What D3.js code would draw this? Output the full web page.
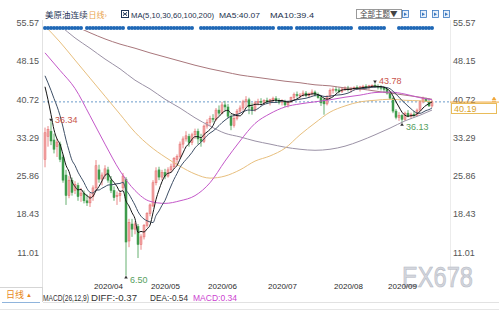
<!DOCTYPE html>
<html>
<head>
<meta charset="utf-8">
<script src="https://cdn.jsdelivr.net/npm/d3@7"></script>
<style>
  body { margin: 0; background: #fff; }
  svg { display: block; font-family: "Liberation Sans", Arial, sans-serif; }
</style>
</head>
<body>
<div id="chart"></div>
<script>
// daily candles, left to right
const opens = [29.0,33.5,34.5,32.8,31.5,32.0,29.5,26.0,22.0,25.0,23.0,24.0,22.0,22.5,21.0,20.6,21.8,23.5,27.0,25.2,
  26.0,27.0,25.0,23.0,21.8,22.0,23.5,25.2,13.2,16.5,15.5,16.0,12.5,14.0,16.2,18.5,20.0,24.5,27.0,25.6,
  26.5,25.8,27.0,27.6,29.0,29.6,32.0,33.0,33.5,32.3,33.8,34.5,33.0,32.5,35.5,36.2,37.0,36.8,38.6,38.0,
  39.6,39.2,37.4,35.6,37.0,38.4,39.0,40.2,40.6,39.2,38.6,40.0,40.3,40.1,40.5,40.2,40.6,40.8,40.5,40.1,
  40.3,39.6,40.2,41.0,41.6,41.4,41.5,41.9,41.4,41.8,42.1,41.6,41.0,40.6,39.8,41.2,42.4,42.6,42.5,42.2,
  42.7,42.9,42.6,42.8,43.0,42.8,43.1,43.2,43.0,43.3,43.4,43.2,43.0,42.9,42.6,41.9,40.9,38.4,37.2,37.6,
  36.8,38.0,37.4,37.8,37.6,38.6,40.2,40.8,40.3,39.4];
const highs = [35.2,35.5,36.34,34.0,33.0,32.5,30.0,27.0,25.8,25.5,24.8,24.5,23.5,23.0,22.2,22.5,24.0,28.9,28.0,26.5,
  27.9,27.6,25.8,23.8,22.8,23.0,26.4,25.6,17.5,17.5,17.0,16.5,14.5,16.5,18.8,20.5,25.0,27.5,27.6,27.0,
  27.2,27.5,28.2,29.5,30.0,32.5,33.5,34.5,34.0,34.2,35.0,35.0,34.0,35.8,36.8,37.5,37.8,39.0,39.5,40.2,
  40.4,39.8,37.8,37.6,38.8,39.5,40.6,41.3,41.0,40.0,40.4,40.8,40.9,40.7,41.0,40.8,41.2,41.3,40.9,40.7,
  40.6,40.4,41.2,42.0,42.2,41.9,42.4,42.3,42.0,42.6,42.4,42.0,41.3,40.8,41.5,42.8,43.0,43.1,43.0,42.9,
  43.2,43.3,43.1,43.2,43.4,43.3,43.5,43.6,43.5,43.6,43.78,43.6,43.4,43.2,42.8,42.1,41.2,38.8,38.2,37.8,
  38.3,38.6,38.1,38.4,38.9,40.5,41.2,41.0,40.9,40.6];
const lows = [27.5,31.5,31.8,30.2,29.5,28.5,24.5,20.2,21.5,22.0,22.3,21.0,20.8,20.5,20.0,19.8,21.0,23.0,24.5,24.0,
  25.2,24.5,22.5,21.0,20.2,20.8,23.0,6.50,12.0,14.0,14.5,9.9,11.5,13.5,15.8,18.0,19.8,24.0,25.0,25.0,
  25.2,25.5,26.5,27.2,27.8,29.2,31.2,32.5,31.5,31.8,33.0,32.0,31.5,32.2,35.0,35.5,36.2,36.5,37.5,37.8,
  38.5,37.0,34.7,35.2,36.6,38.0,38.5,39.2,37.8,37.7,38.3,39.5,39.6,39.6,39.8,39.5,40.1,40.2,39.7,39.5,
  39.2,39.1,40.0,40.6,41.0,40.8,41.2,41.1,40.9,41.4,41.2,40.8,39.4,37.7,39.5,41.0,41.8,42.0,41.8,41.9,
  42.3,42.2,42.0,42.4,42.5,42.2,42.7,42.8,42.6,42.9,42.9,42.6,42.4,42.0,41.6,40.6,38.0,36.8,36.5,36.13,
  36.5,37.2,37.0,37.3,37.4,38.4,39.9,40.3,39.2,39.1];
const closes = [34.2,34.8,32.6,31.0,32.4,29.0,25.0,22.0,25.0,22.6,24.2,21.8,22.5,21.0,20.6,21.8,23.5,27.8,25.2,26.0,
  27.2,25.0,23.0,21.6,22.0,22.4,25.8,13.0,16.8,15.5,16.5,12.5,14.0,16.2,18.5,20.2,24.5,26.8,25.6,26.5,
  25.8,27.0,27.6,29.2,29.6,32.0,33.0,33.6,32.3,33.8,34.5,33.0,32.5,35.5,36.2,37.0,36.8,38.6,38.0,39.6,
  39.2,37.4,35.6,37.0,38.4,39.0,40.2,40.6,39.2,38.6,40.0,40.3,40.1,40.5,40.2,40.6,40.8,40.5,40.1,40.3,
  39.6,40.2,41.0,41.6,41.4,41.5,41.9,41.4,41.8,42.1,41.6,41.0,40.0,39.8,41.2,42.4,42.6,42.5,42.2,42.7,
  42.9,42.6,42.8,43.0,42.8,43.1,43.2,43.0,43.3,43.4,43.2,43.0,42.9,42.6,41.9,40.9,38.4,37.2,37.6,36.8,
  38.0,37.4,37.8,37.6,38.6,40.2,40.8,40.3,39.4,40.19];
// closes just before the first visible candle (feed MA5 / MA10)
const priorCloses = [48.5,47.2,46.8,47.5,46.9,47.4,46.8,45.9,41.3];

// long moving averages, at these candle indices
const maIndex = [0,5,10,15,20,25,30,35,40,45,50,55,60,65,70,75,80,85,90,95,100,105,110,115,120,125,129];
const ma30 = [49.7,46.3,42.8,37.5,32.0,26.8,23.0,20.9,20.5,21.0,22.0,24.5,28.7,32.6,36.0,37.9,39.2,39.8,40.2,40.6,41.1,41.5,42.0,42.1,41.7,41.0,40.6];
const ma60 = [54.9,51.8,48.3,44.8,41.3,37.8,34.3,31.6,29.5,27.7,26.2,25.4,25.8,27.0,28.7,29.7,31.2,33.8,36.1,38.2,39.4,40.2,40.5,40.7,40.5,40.4,40.2];
const ma100 = [57.4,55.0,52.6,50.6,48.5,46.6,44.4,42.7,40.7,39.0,37.1,35.5,34.1,33.4,32.6,32.0,31.4,31.0,30.8,31.0,31.6,32.6,33.8,35.1,36.5,37.6,38.6];
const ma200 = [57.5,56.3,54.9,53.6,52.4,51.4,50.6,49.7,48.9,48.1,47.3,46.6,46.0,45.4,45.0,44.6,44.2,43.9,43.5,43.3,42.9,42.7,42.3,41.9,41.5,41.1,40.7];

const priceTicks = [11.01, 18.43, 25.86, 33.29, 40.72, 48.15, 55.57];
const monthLabels = ['2020/04','2020/05','2020/06','2020/07','2020/08','2020/09'];
const monthIndex = [21, 40, 59, 79, 101, 119];
const lastPrice = 40.19;
const extremes = [
  { i: 2, v: 36.34, kind: 'high' },
  { i: 110, v: 43.78, kind: 'high' },
  { i: 119, v: 36.13, kind: 'low' },
  { i: 27, v: 6.50, kind: 'low' },
];
// candles with no event dot above them
const eventSkip = [13, 27, 50, 51, 77, 83, 103, 104, 114, 115, 116, 117];

const width = 499;
const height = 312;
const plot = { left: 43, right: 450, top: 30, bottom: 287 };

const x = d3.scaleLinear().domain([0, closes.length - 1]).range([45, 432]);
const y = d3.scaleLinear().domain([11.01, 55.57]).range([252.3, 22.6]);

const svg = d3.select('#chart').append('svg')
  .attr('width', width).attr('height', height);

svg.append('clipPath').attr('id', 'plotClip')
  .append('rect')
  .attr('x', plot.left).attr('y', plot.top)
  .attr('width', plot.right - plot.left).attr('height', plot.bottom - plot.top);

// frame lines
svg.append('line').attr('x1', plot.left - 0.5).attr('x2', plot.left - 0.5)
  .attr('y1', 20).attr('y2', 287).attr('stroke', '#e2e2e2');
svg.append('line').attr('x1', plot.right + 0.5).attr('x2', plot.right + 0.5)
  .attr('y1', 20).attr('y2', 287).attr('stroke', '#ececec');

// header
const header = svg.append('g').style('font-size', '8.5px');
header.append('text').attr('x', 45).attr('y', 18).attr('fill', '#1f3658')
  .style('font-family', '"Noto Sans CJK SC", sans-serif').text('美原油连续');
header.append('text').attr('x', 86).attr('y', 18).attr('fill', '#e9a24a')
  .style('font-family', '"Noto Sans CJK SC", sans-serif').style('font-size', '8px').text('‹日线›');
header.append('rect').attr('x', 121.5).attr('y', 10.5).attr('width', 7).attr('height', 7)
  .attr('fill', 'none').attr('stroke', '#1f3658');
header.append('path').attr('d', 'M123,12 L127,16 M127,12 L123,16 M123,14 L127,14')
  .attr('stroke', '#1f3658').attr('stroke-width', 0.8);
const headParts = [
  { t: 'MA(5,10,30,60,100,200)', x: 131, w: 83 },
  { t: 'MA5:40.07', x: 219, w: 41 },
  { t: 'MA10:39.4', x: 270, w: 44 },
];
header.selectAll('text.ma').data(headParts).join('text')
  .attr('class', 'ma')
  .attr('x', (d) => d.x).attr('y', 18).attr('fill', '#22314d')
  .attr('textLength', (d) => d.w).attr('lengthAdjust', 'spacingAndGlyphs')
  .style('font-size', '8px')
  .text((d) => d.t);

header.append('rect').attr('x', 356.5).attr('y', 9.5).attr('width', 45).attr('height', 9)
  .attr('fill', '#fff').attr('stroke', '#9a9a9a');
header.append('text').attr('x', 360).attr('y', 17).attr('fill', '#444')
  .style('font-family', '"Noto Sans CJK SC", sans-serif').style('font-size', '7.5px').text('全部主题▼');
[402, 420, 432, 443].forEach((ix) => {
  header.append('rect').attr('x', ix + 0.5).attr('y', 10.5).attr('width', 6).attr('height', 7)
    .attr('fill', '#e8f0fa').attr('stroke', '#3a78c0').attr('stroke-width', 0.8);
  header.append('path').attr('d', `M${ix + 2},12.5 L${ix + 2},16 L${ix + 5},14.2 Z`)
    .attr('fill', '#3a78c0');
});

// event dots row
const dotDays = d3.range(closes.length).filter((i) => !eventSkip.includes(i));
svg.append('g').selectAll('circle').data(dotDays).join('circle')
  .attr('cx', (i) => x(i)).attr('cy', 28).attr('r', 2)
  .attr('fill', '#1f68b6');

// axes
const leftAxis = svg.append('g').attr('transform', 'translate(41,0)')
  .call(d3.axisLeft(y).tickValues(priceTicks).tickSize(0).tickPadding(2).tickFormat(d3.format('.2f')));
const rightAxis = svg.append('g').attr('transform', `translate(${plot.right + 2},0)`)
  .call(d3.axisRight(y).tickValues(priceTicks).tickSize(0).tickPadding(1).tickFormat(d3.format('.2f')));
[leftAxis, rightAxis].forEach((a) => {
  a.select('.domain').remove();
  a.selectAll('text').attr('fill', '#555').style('font-size', '9px')
    .style('font-family', '"Liberation Sans", Arial, sans-serif');
});

// last price dashed line
svg.append('line')
  .attr('x1', plot.left).attr('x2', plot.right)
  .attr('y1', y(lastPrice)).attr('y2', y(lastPrice))
  .attr('stroke', '#6b9bc9').attr('stroke-dasharray', '2,2');

const chart = svg.append('g').attr('clip-path', 'url(#plotClip)');

// moving averages
const sampled = (values) => values.map((v, k) => [maIndex[k], v]);
const allCloses = priorCloses.concat(closes);
const movingAvg = (n) => closes.map((c, i) => {
  const end = i + priorCloses.length + 1;
  return [i, d3.mean(allCloses.slice(end - n, end))];
});
const lineGen = d3.line().x((d) => x(d[0])).y((d) => y(d[1])).curve(d3.curveMonotoneX);

const maSeries = [
  { data: sampled(ma200), color: '#a9777c' },
  { data: sampled(ma100), color: '#9b92a6' },
  { data: sampled(ma60), color: '#e8bf7e' },
  { data: sampled(ma30), color: '#c458c9' },
  { data: movingAvg(10), color: '#3e4f66' },
  { data: movingAvg(5), color: '#151515' },
];

// candles
const upColor = '#e46a6a';
const downColor = '#3f9c4c';
const candles = chart.append('g');
closes.forEach((c, i) => {
  const up = c >= opens[i];
  const col = up ? upColor : downColor;
  candles.append('line')
    .attr('x1', x(i)).attr('x2', x(i))
    .attr('y1', y(highs[i])).attr('y2', y(lows[i]))
    .attr('stroke', col).attr('stroke-width', 0.8);
  const top = y(Math.max(c, opens[i]));
  const h = Math.max(0.8, Math.abs(y(c) - y(opens[i])));
  candles.append('rect')
    .attr('x', x(i) - 1).attr('y', top)
    .attr('width', 2).attr('height', h)
    .attr('fill', up ? '#f2a8a8' : downColor)
    .attr('stroke', col).attr('stroke-width', 0.5);
});

chart.append('g').selectAll('path').data(maSeries).join('path')
  .attr('d', (d) => lineGen(d.data))
  .attr('fill', 'none')
  .attr('stroke', (d) => d.color)
  .attr('stroke-width', 1);

// extreme markers
extremes.forEach((e) => {
  const px = x(e.i);
  const py = y(e.v);
  const dir = e.kind === 'high' ? -1 : 1;
  svg.append('path')
    .attr('d', `M${px},${py} L${px - 1.8},${py + dir * 3} L${px + 1.8},${py + dir * 3} Z`)
    .attr('fill', '#333');
  svg.append('text')
    .attr('x', px + 4)
    .attr('y', e.kind === 'high' ? py + 1 : py + 7)
    .attr('fill', e.kind === 'high' ? '#c9544c' : '#56a05e')
    .style('font-size', '9px')
    .text(e.v.toFixed(2));
});

// price box on right
svg.append('line').attr('x1', plot.right).attr('x2', width)
  .attr('y1', y(lastPrice) + 0.2).attr('y2', y(lastPrice) + 0.2)
  .attr('stroke', '#f0a535');
svg.append('path').attr('d', 'M492,100 L494,97 L496,100 Z M492,101.5 L496,101.5')
  .attr('fill', '#f0a535').attr('stroke', '#f0a535').attr('stroke-width', 0.6);
svg.append('rect').attr('x', 451.5).attr('y', 103.5).attr('width', 45).attr('height', 10)
  .attr('fill', '#fff').attr('stroke', '#e9bc5a');
svg.append('text').attr('x', 454).attr('y', 112).attr('fill', '#d9a22a')
  .style('font-size', '9px').text(lastPrice.toFixed(2));

// bottom strip
svg.append('line').attr('x1', 0).attr('x2', 43).attr('y1', 287.5).attr('y2', 287.5).attr('stroke', '#d5d5d5');
svg.append('line').attr('x1', 42.5).attr('x2', 42.5).attr('y1', 287).attr('y2', 302).attr('stroke', '#d5d5d5');
svg.append('line').attr('x1', 2).attr('x2', 40).attr('y1', 302.5).attr('y2', 302.5).attr('stroke', '#8fb4dc');
svg.append('line').attr('x1', 43).attr('x2', width).attr('y1', 302.5).attr('y2', 302.5).attr('stroke', '#e2e2e2');
svg.append('line').attr('x1', 0).attr('x2', width).attr('y1', 309.5).attr('y2', 309.5).attr('stroke', '#e6e6e6');
svg.append('text').attr('x', 6).attr('y', 298).attr('fill', '#e8891c')
  .style('font-family', '"Noto Sans CJK SC", sans-serif').style('font-size', '9px').text('日线');
svg.append('text').attr('x', 26).attr('y', 297).attr('fill', '#e8891c')
  .style('font-size', '6px').text('▲');

// watermark
svg.append('text').attr('x', 402).attr('y', 287)
  .attr('textLength', 71).attr('lengthAdjust', 'spacingAndGlyphs')
  .attr('fill', '#d3d6dd').attr('stroke', '#b4b8c3').attr('stroke-width', 0.6)
  .style('font-size', '30px').text('EX678');

// month labels
const xAxis = svg.append('g').attr('transform', 'translate(0,285)')
  .call(d3.axisBottom(x).tickValues(monthIndex).tickSize(0).tickPadding(0)
    .tickFormat((d, k) => monthLabels[k]));
xAxis.select('.domain').remove();
xAxis.selectAll('text').attr('fill', '#2a2a2a').attr('dy', '0.55em')
  .style('font-size', '8px').style('font-family', '"Liberation Sans", Arial, sans-serif');

// MACD legend
const macdParts = [
  { t: 'MACD(26,12,9)', x: 43, w: 46, c: '#333' },
  { t: 'DIFF:-0.37', x: 91, w: 46, c: '#333' },
  { t: 'DEA:-0.54', x: 150, w: 38, c: '#333' },
  { t: 'MACD:0.34', x: 193, w: 44, c: '#cc3fd0' },
];
svg.append('g').selectAll('text').data(macdParts).join('text')
  .attr('x', (d) => d.x).attr('y', 301).attr('fill', (d) => d.c)
  .attr('textLength', (d) => d.w).attr('lengthAdjust', 'spacingAndGlyphs')
  .style('font-size', '8.5px').text((d) => d.t);
</script>
</body>
</html>
